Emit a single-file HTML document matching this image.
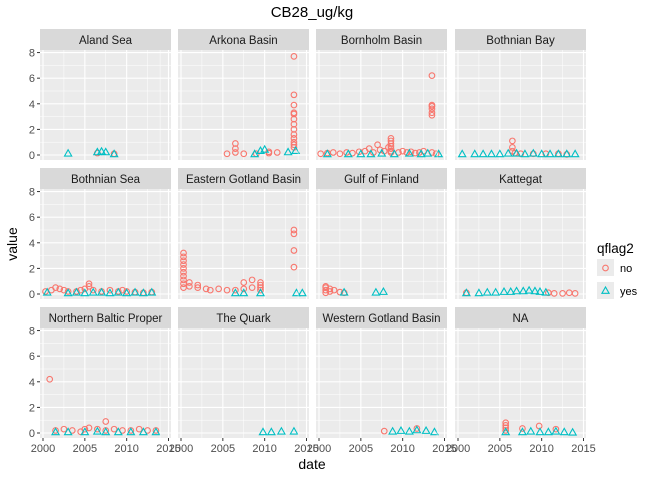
<!DOCTYPE html>
<html><head><meta charset="utf-8"><style>
body{margin:0;background:#fff;font-family:"Liberation Sans",sans-serif}
svg text{font-family:"Liberation Sans",sans-serif}
</style></head><body>
<svg id="chart" width="672" height="480" xmlns="http://www.w3.org/2000/svg"></svg>
<script>
const facetNames=["Aland Sea","Arkona Basin","Bornholm Basin","Bothnian Bay","Bothnian Sea","Eastern Gotland Basin","Gulf of Finland","Kattegat","Northern Baltic Proper","The Quark","Western Gotland Basin","NA"];
const xTicks=[2000,2005,2010,2015];
const yTicks=[0,2,4,6,8];
// per facet: [year,value] pairs for qflag2 "no" and "yes"
const noData=[
[[2006.5,0.15],[2008.5,0.1]],
[[2005.5,0.1],[2006.5,0.2],[2006.5,0.5],[2006.5,0.9],[2007.5,0.1],[2009,0.1],[2010.5,0.15],[2010.5,0.25],[2011.5,0.2],[2013.5,0.6],[2013.5,0.8],[2013.5,1.0],[2013.5,1.3],[2013.5,1.6],[2013.5,2.0],[2013.5,2.4],[2013.5,2.8],[2013.5,3.2],[2013.5,3.3],[2013.5,3.9],[2013.5,4.7],[2013.5,7.7]],
[[2000.2,0.1],[2001,0.15],[2001.7,0.2],[2002.5,0.1],[2003.3,0.2],[2004,0.15],[2004.8,0.25],[2005.5,0.3],[2006,0.5],[2006.5,0.2],[2007,0.8],[2007.3,0.4],[2007.8,0.3],[2008.3,0.6],[2008.6,0.3],[2008.6,0.2],[2008.6,0.5],[2008.6,0.7],[2008.6,0.9],[2008.6,1.1],[2008.6,1.3],[2009.5,0.2],[2010,0.3],[2010.5,0.2],[2011,0.25],[2011.5,0.15],[2012,0.2],[2012.5,0.3],[2013.5,0.2],[2013.5,3.1],[2013.5,3.3],[2013.5,3.6],[2013.5,3.8],[2013.5,3.9],[2013.5,6.2],[2014,0.1]],
[[2006.5,0.3],[2006.5,0.6],[2006.5,1.1],[2006.8,0.15],[2007.5,0.1],[2009,0.1],[2010.5,0.1],[2012,0.1],[2013,0.05]],
[[2000.3,0.2],[2001,0.3],[2001.5,0.5],[2002,0.4],[2002.5,0.3],[2003,0.2],[2004,0.2],[2004.5,0.3],[2005,0.4],[2005.5,0.6],[2005.5,0.8],[2006,0.3],[2007,0.2],[2008,0.3],[2009,0.2],[2009.5,0.3],[2010,0.2],[2011,0.15],[2012,0.1],[2013,0.15]],
[[2000.3,0.5],[2000.3,0.8],[2000.3,1.1],[2000.3,1.4],[2000.3,1.7],[2000.3,2.0],[2000.3,2.3],[2000.3,2.6],[2000.3,2.9],[2000.3,3.2],[2001,0.6],[2001,0.9],[2002,0.5],[2002,0.7],[2003,0.4],[2003.5,0.3],[2004.5,0.4],[2005.5,0.3],[2006.5,0.3],[2007.5,0.4],[2007.5,0.9],[2008.5,0.5],[2008.5,1.1],[2009.5,0.3],[2009.5,0.5],[2009.5,0.7],[2009.5,0.9],[2013.5,2.1],[2013.5,3.4],[2013.5,4.7],[2013.5,5.0]],
[[2000.8,0.1],[2000.8,0.3],[2000.8,0.5],[2000.8,0.6],[2001.3,0.2],[2001.3,0.4],[2001.8,0.3],[2002.5,0.15],[2003,0.1]],
[[2001,0.1],[2010.8,0.1],[2011.5,0.05],[2012.5,0.05],[2013.3,0.1],[2014,0.05]],
[[2000.8,4.2],[2001.5,0.2],[2002.5,0.3],[2003.5,0.2],[2004.5,0.1],[2005,0.3],[2005.5,0.4],[2006.5,0.3],[2007.5,0.2],[2007.5,0.9],[2008.5,0.3],[2009.5,0.2],[2010.5,0.2],[2011.5,0.3],[2012.5,0.2],[2013.5,0.2]],
[],
[[2007.8,0.15],[2011.7,0.35]],
[[2005.7,0.2],[2005.7,0.4],[2005.7,0.6],[2005.7,0.8],[2007.7,0.35],[2009.7,0.55],[2011.7,0.3]]
];
const yesData=[
[[2003,0.1],[2006.5,0.2],[2007,0.25],[2007.5,0.2],[2008.5,0.05]],
[[2008.8,0.05],[2009.5,0.3],[2010,0.4],[2012.8,0.2],[2013.7,0.3]],
[[2001,0.05],[2003.5,0.05],[2005,0.05],[2006.2,0.05],[2007.5,0.1],[2009,0.05],[2010.8,0.1],[2012.2,0.05],[2013,0.1],[2014.3,0.05]],
[[2000.5,0.05],[2002,0.05],[2003,0.05],[2004,0.05],[2005,0.05],[2006,0.1],[2007,0.1],[2008,0.05],[2009,0.1],[2010,0.05],[2011,0.05],[2012,0.05],[2013,0.05],[2014,0.05]],
[[2000.5,0.1],[2003,0.05],[2004,0.1],[2005,0.05],[2006,0.1],[2007,0.1],[2008,0.05],[2009,0.1],[2010,0.05],[2011,0.1],[2012,0.05],[2013,0.1]],
[[2006.5,0.05],[2007.5,0.05],[2009.5,0.05],[2013.8,0.05],[2014.5,0.05]],
[[2003,0.1],[2006.8,0.1],[2007.7,0.15]],
[[2001,0.05],[2002.5,0.05],[2003.5,0.1],[2004.5,0.1],[2005.5,0.15],[2006.3,0.15],[2007,0.2],[2007.8,0.2],[2008.5,0.25],[2009.2,0.2],[2009.8,0.15],[2010.5,0.1]],
[[2001.5,0.05],[2003,0.05],[2005,0.05],[2006.5,0.1],[2007.5,0.05],[2009,0.05],[2010.5,0.05],[2012,0.05],[2013.5,0.05]],
[[2009.8,0.05],[2010.8,0.05],[2012,0.1],[2013.5,0.1]],
[[2008.8,0.1],[2009.8,0.15],[2010.8,0.1],[2011.7,0.2],[2012.8,0.15],[2013.8,0.05]],
[[2005.7,0.05],[2007.7,0.05],[2008.7,0.1],[2009.8,0.05],[2010.8,0.05],[2011.7,0.1],[2012.7,0.05],[2013.7,0.02]]
];
const NS="http://www.w3.org/2000/svg";
const svg=document.getElementById("chart");
function mk(t,a,p){const e=document.createElementNS(NS,t);for(const k in a)e.setAttribute(k,a[k]);(p||svg).appendChild(e);return e;}
const colX=[40,178,316,455],rowY=[29,168,307],PW=131,SH=21,PH=110;
const xMin=1999.64,xMax=2015.3,yMin=-0.39,yMax=8.2;
function sx(c,v){return colX[c]+(v-xMin)/(xMax-xMin)*PW;}
function sy(r,v){return rowY[r]+SH+PH-(v-yMin)/(yMax-yMin)*PH;}
let t=mk("text",{x:312,y:17,"text-anchor":"middle","font-size":"15",fill:"#000"});


t.textContent="CB28_ug/kg";
facetNames.forEach((name,i)=>{
  const c=i%4,r=Math.floor(i/4);
  const g=mk("g",{});
  
  
  const strip=mk("rect",{x:colX[c],y:rowY[r],width:PW,height:SH,fill:"#d9d9d9"},g);
  
  
  const st=mk("text",{x:colX[c]+PW/2,y:rowY[r]+15,"text-anchor":"middle","font-size":"11.5",fill:"#1a1a1a"},g);
  
  
  st.textContent=name;
  const top=rowY[r]+SH;
  const bg=mk("rect",{x:colX[c],y:top,width:PW,height:PH,fill:"#ebebeb"},g);
  
  
  for(let k=0;k<xTicks.length-1;k++){const m=(xTicks[k]+xTicks[k+1])/2;mk("line",{x1:sx(c,m),x2:sx(c,m),y1:top,y2:top+PH,stroke:"#fff","stroke-width":0.5},g);}
  mk("line",{x1:sx(c,xTicks[0]-2.5),x2:sx(c,xTicks[0]-2.5),y1:top,y2:top+PH,stroke:"#fff","stroke-width":0.5},g);
  for(let k=0;k<yTicks.length;k++){const m=yTicks[k]+1;if(m<yMax)mk("line",{x1:colX[c],x2:colX[c]+PW,y1:sy(r,m),y2:sy(r,m),stroke:"#fff","stroke-width":0.5},g);}
  xTicks.forEach(v=>mk("line",{x1:sx(c,v),x2:sx(c,v),y1:top,y2:top+PH,stroke:"#fff","stroke-width":1.1},g));
  yTicks.forEach(v=>mk("line",{x1:colX[c],x2:colX[c]+PW,y1:sy(r,v),y2:sy(r,v),stroke:"#fff","stroke-width":1.1},g));
  noData[i].forEach(p=>{const e=mk("circle",{cx:sx(c,p[0]),cy:sy(r,p[1]),r:2.8,fill:"none",stroke:"#F8766D","stroke-width":1.1},g);
    
    });
  yesData[i].forEach(p=>{const x=sx(c,p[0]),y=sy(r,p[1]);const e=mk("polygon",{points:`${x},${y-4} ${x-3.6},${y+2.3} ${x+3.6},${y+2.3}`,fill:"none",stroke:"#00BFC4","stroke-width":1.1},g);
    
    });
  if(c===0){yTicks.forEach(v=>{mk("line",{x1:colX[0]-3,x2:colX[0],y1:sy(r,v),y2:sy(r,v),stroke:"#333"});
    const l=mk("text",{x:colX[0]-5,y:sy(r,v)+4,"text-anchor":"end","font-size":"11",fill:"#4d4d4d"});
    
    
    l.textContent=v;});}
  if(r===2){xTicks.forEach(v=>{mk("line",{x1:sx(c,v),x2:sx(c,v),y1:top+PH,y2:top+PH+3,stroke:"#333"});
    const l=mk("text",{x:sx(c,v),y:top+PH+14,"text-anchor":"middle","font-size":"11",fill:"#4d4d4d"});
    
    
    l.textContent=v;});}
});
t=mk("text",{x:312,y:469,"text-anchor":"middle","font-size":"14",fill:"#000"});


t.textContent="date";
t=mk("text",{x:17,y:244,"text-anchor":"middle","font-size":"14",fill:"#000",transform:"rotate(-90 17 244)"});


t.textContent="value";
const lg=mk("g",{});


t=mk("text",{x:597,y:253,"font-size":"13.5",fill:"#000"},lg);


t.textContent="qflag2";
[["no",268],["yes",291]].forEach((d,k)=>{
  const e=mk("g",{},lg);
  
  
  mk("rect",{x:597,y:d[1]-9,width:17,height:17,fill:"#ebebeb"},e);
  if(k===0)mk("circle",{cx:605.5,cy:d[1],r:2.8,fill:"none",stroke:"#F8766D","stroke-width":1.1},e);
  else mk("polygon",{points:`605.5,${d[1]-4} 601.9,${d[1]+2.3} 609.1,${d[1]+2.3}`,fill:"none",stroke:"#00BFC4","stroke-width":1.1},e);
  const l=mk("text",{x:620,y:d[1]+4,"font-size":"11",fill:"#000"},e);
  l.textContent=d[0];
});
</script>
</body></html>
